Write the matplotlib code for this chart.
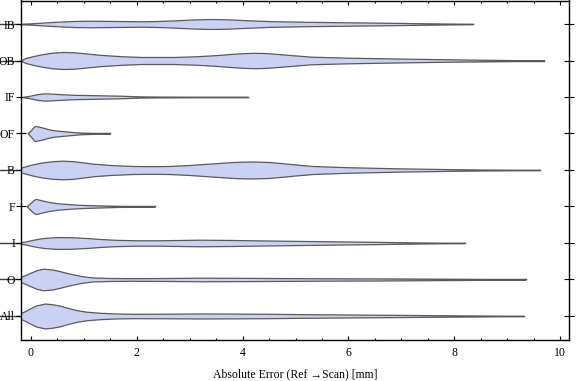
import numpy as np
import matplotlib.pyplot as plt

# categories from bottom to top
cats = ["All", "O", "I", "F", "B", "OF", "IF", "OB", "IB"]

# violin outlines: error value [mm] and half width (in px of the original, row step = 36.5 px)
x_all = [-0.35, -0.2, -0.1, -0.02, 0.1, 0.26, 0.4, 0.55, 0.7, 0.87, 1.05, 1.3, 1.6, 1.93, 2.6, 3.19, 3.8, 4.46, 5.2, 5.97, 7.2, 8.17, 8.8, 9.32]
w_all = [0, 2.8, 5.2, 7.5, 10.6, 12.4, 11.8, 10.3, 8.0, 5.8, 4.3, 3.2, 2.5, 2.2, 2.3, 2.5, 2.4, 2.2, 1.8, 1.5, 1.0, 0.5, 0.2, 0]

x_o = [-0.35, -0.2, -0.1, -0.02, 0.1, 0.23, 0.4, 0.55, 0.7, 0.87, 1.0, 1.17, 1.5, 1.93, 2.6, 3.19, 3.8, 4.46, 5.5, 6.6, 7.86, 8.8, 9.35]
w_o = [0, 2.5, 4.6, 6.5, 9.2, 10.8, 10.0, 8.3, 6.2, 4.3, 3.0, 2.0, 1.5, 1.3, 1.5, 1.8, 1.7, 1.5, 1.2, 1.0, 0.6, 0.3, 0]

x_i = [-0.25, -0.1, 0.04, 0.15, 0.25, 0.48, 0.75, 1.05, 1.3, 1.59, 2.0, 2.4, 2.8, 3.2, 3.8, 4.44, 5.46, 6.47, 7.15, 7.7, 8.2]
w_i = [0, 1.6, 3.2, 4.3, 5.0, 5.9, 5.8, 5.0, 4.0, 3.2, 2.7, 2.7, 3.0, 3.3, 3.0, 2.5, 1.8, 1.2, 0.6, 0.2, 0]

x_f = [-0.08, 0.0, 0.05, 0.09, 0.14, 0.23, 0.35, 0.49, 0.8, 1.05, 1.3, 1.62, 2.0, 2.34]
w_f = [0, 4.0, 6.5, 7.6, 7.0, 5.8, 4.4, 3.3, 2.0, 1.4, 1.0, 0.5, 0.2, 0]

x_b = [-0.35, -0.15, 0.04, 0.2, 0.4, 0.6, 0.8, 1.0, 1.17, 1.5, 1.93, 2.3, 2.6, 3.0, 3.32, 3.6, 3.9, 4.2, 4.5, 4.75, 4.96, 5.33, 5.97, 6.9, 7.86, 8.5, 9.1, 9.62]
w_b = [0, 3.0, 5.7, 7.4, 8.8, 9.3, 8.8, 7.5, 6.3, 5.0, 4.0, 3.8, 4.0, 5.0, 6.2, 7.2, 8.2, 8.5, 8.0, 6.8, 5.7, 4.0, 2.8, 1.7, 0.9, 0.4, 0.15, 0]

x_of = [-0.06, 0.01, 0.05, 0.08, 0.13, 0.23, 0.32, 0.42, 0.68, 0.93, 1.2, 1.49]
w_of = [0, 4.0, 6.6, 7.6, 7.0, 5.8, 4.4, 3.3, 2.0, 0.8, 0.3, 0]

x_if = [-0.15, 0.0, 0.12, 0.25, 0.38, 0.5, 0.8, 1.3, 1.7, 2.1, 2.5, 3.2, 4.1]
w_if = [0, 1.5, 2.9, 3.6, 3.4, 3.0, 2.2, 1.7, 1.3, 0.5, 0.25, 0.1, 0]

x_ob = [-0.2, -0.1, 0.05, 0.2, 0.4, 0.6, 0.8, 1.0, 1.3, 1.7, 2.1, 2.7, 3.1, 3.45, 3.8, 4.0, 4.2, 4.4, 4.55, 4.9, 5.3, 6.0, 6.9, 7.9, 8.8, 9.25, 9.7]
w_ob = [0, 2.5, 4.5, 6.2, 7.8, 8.5, 8.3, 7.3, 5.7, 4.3, 3.5, 3.5, 4.2, 5.2, 6.6, 7.3, 7.7, 7.5, 7.0, 5.5, 3.8, 2.8, 2.0, 1.2, 0.6, 0.3, 0]

x_ib = [-0.2, 0.1, 0.4, 0.8, 1.1, 1.6, 2.1, 2.4, 2.7, 3.05, 3.4, 3.7, 4.0, 4.5, 5.2, 5.8, 6.5, 7.2, 7.8, 8.35]
w_ib = [0, 1.0, 2.0, 3.0, 3.3, 3.0, 2.7, 3.0, 3.6, 4.5, 5.0, 4.7, 4.0, 2.9, 2.2, 1.8, 1.4, 0.9, 0.4, 0]

xs = [x_all, x_o, x_i, x_f, x_b, x_of, x_if, x_ob, x_ib]
ws = [w_all, w_o, w_i, w_f, w_b, w_of, w_if, w_ob, w_ib]

# left end of the range line for each category
line_lo = [-0.6, -0.6, -0.6, -0.08, -0.6, -0.06, -0.15, -0.6, -0.6]

fig = plt.figure(figsize=(5.76, 3.81), dpi=100)
ax = fig.add_axes([21/576, 41/381, 548/576, 339.5/381])

sc = 1/36.5
for k, (x, w) in enumerate(zip(xs, ws)):
    y = k + 1
    x = np.array(x)
    w = np.array(w) * sc
    ax.plot([line_lo[k], x[-1]], [y, y], color="#3c3c3c", lw=1.0, zorder=1, clip_on=False)
    ax.fill_between(x, y - w, y + w, facecolor="#cbd1f4", edgecolor="#5a5a5a", lw=0.9, zorder=2)

ax.set_xlim(-0.189, 10.17)
ax.set_ylim(0.342, 9.644)

ax.set_xticks(np.arange(0, 11, 2))
ax.set_xticks(np.arange(0, 10.3, 0.5), minor=True)
ax.set_yticks(range(1, 10))
ax.set_yticklabels(cats)

for s in ax.spines.values():
    s.set_linewidth(1.0)

ax.tick_params(axis="x", which="major", direction="in", length=3.2, width=0.8, top=True, pad=5)
ax.tick_params(axis="x", which="minor", direction="in", length=1.6, width=0.8, top=True)
ax.tick_params(axis="y", which="major", direction="inout", length=6.5, width=0.8, right=True, pad=1)
ax.yaxis.set_tick_params(which="minor", left=False, right=False)

for lab in ax.get_xticklabels() + ax.get_yticklabels():
    lab.set_family("Liberation Serif")
    lab.set_fontsize(8.5)

ax.set_xlabel("Absolute Error (Ref \u2192Scan) [mm]", family=["Liberation Serif", "DejaVu Serif"], fontsize=8.5, labelpad=7)

fig.savefig("out.png", dpi=100)
